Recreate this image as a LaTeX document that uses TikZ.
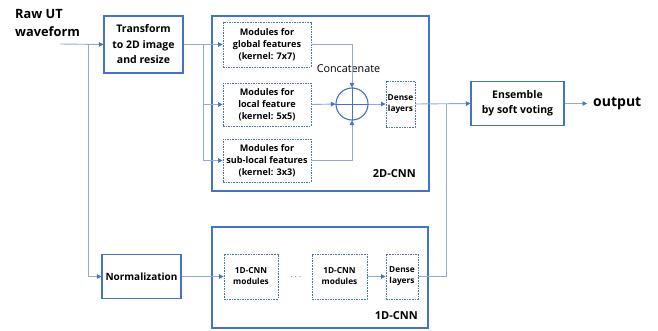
\documentclass[tikz,border=0pt]{standalone}
\usepackage{fontspec}
\setmainfont{Open Sans}
\usetikzlibrary{arrows.meta,calc}
\definecolor{boxblue}{HTML}{4472C4}
\definecolor{lineblue}{HTML}{8FAADC}
\begin{document}
\begin{tikzpicture}[x=1pt,y=-1pt,
  solidbox/.style={draw=boxblue, line width=1.1pt, align=center, inner sep=0pt, font=\fontsize{10.5}{15.5}\selectfont\bfseries},
  outerbox/.style={draw=boxblue, line width=1.6pt, inner sep=0pt},
  dashbox/.style={draw=boxblue, line width=0.9pt, dash pattern=on 1.6pt off 1pt, align=center, inner sep=0pt, font=\fontsize{9.1}{12}\selectfont\bfseries},
  smallbox/.style={dashbox, font=\fontsize{8.3}{11}\selectfont\bfseries},
  conn/.style={draw=lineblue, line width=0.9pt},
  arr/.style={conn, -{Triangle[length=4.5pt,width=4.5pt,color=boxblue]}},
  lbl/.style={inner sep=0pt, font=\fontsize{11}{12}\selectfont\bfseries}
]
\useasboundingbox (0,0) rectangle (658,330);
% outer CNN boxes
\node[outerbox, minimum width=217pt, minimum height=175pt] (cnn2) at (320.5,103.5) {};
\node[outerbox, minimum width=216pt, minimum height=101pt] (cnn1) at (320,277.5) {};
\node[lbl, anchor=east] (cnn2lbl) at (416,174) {2D-CNN};
\node[lbl, anchor=east] (cnn1lbl) at (418,316) {1D-CNN};
% input
\node[inner sep=0pt, anchor=west, align=left, font=\fontsize{12.8}{18}\selectfont\bfseries] (raw) at (15,23) {Raw UT\\waveform};
\coordinate (in) at (60,44);
\node[solidbox, minimum width=79pt, minimum height=57pt] (tr) at (143.5,44.5) {Transform\\to 2D image\\and resize};
\node[solidbox, font=\fontsize{10}{12}\selectfont\bfseries, minimum width=79pt, minimum height=44pt] (norm) at (141.5,276.5) {Normalization};
% 2D modules
\node[dashbox, minimum width=88pt, minimum height=45pt] (glob) at (267,44.5) {Modules for\\global features\\(kernel: 7x7)};
\node[dashbox, minimum width=88pt, minimum height=43pt] (loc) at (267,104.5) {Modules for\\local feature\\(kernel: 5x5)};
\node[dashbox, minimum width=88pt, minimum height=43pt] (sub) at (267,160.5) {Modules for\\sub-local features\\(kernel: 3x3)};
\node[circle, draw=boxblue, line width=1.1pt, minimum size=32pt, inner sep=0pt] (cat) at (352,104) {};
\draw[boxblue, line width=0.9pt] (cat.north) -- (cat.south) (cat.west) -- (cat.east);
\node[inner sep=0pt, font=\fontsize{10.8}{12}\selectfont] (catlbl) at (348.5,69) {Concatenate};
\node[smallbox, minimum width=29pt, minimum height=46pt] (d2) at (400.5,104) {Dense\\layers};
% 1D modules
\node[smallbox, minimum width=54pt, minimum height=45pt] (m1) at (251,276.5) {1D-CNN\\modules};
\node[inner sep=0pt, font=\fontsize{9}{11}\selectfont\bfseries] (dots) at (296,277) {$\cdots$};
\node[smallbox, minimum width=55pt, minimum height=45pt] (m2) at (339.5,276.5) {1D-CNN\\modules};
\node[smallbox, minimum width=32pt, minimum height=45pt] (d1) at (402,276.5) {Dense\\layers};
% ensemble & output
\node[solidbox, minimum width=93pt, minimum height=44pt] (ens) at (517.5,103.5) {Ensemble\\by soft voting};
\node[inner sep=0pt, anchor=west, font=\fontsize{14}{15}\selectfont\bfseries] (out) at (593,103.5) {output};
% connectors
\coordinate (split0) at (88,44);
\draw[arr] (in) -- (tr.west);
\draw[arr] (split0) |- (norm.west);
\coordinate (split) at ($(tr.east)+(20,0)$);
\draw[arr] (tr.east) -- (glob.west);
\draw[arr] (split) |- (loc.west);
\draw[arr] (split) |- (sub.west);
\draw[arr] (glob.east) -| (cat.north);
\draw[arr] (sub.east) -| (cat.south);
\draw[arr] (loc.east) -- (cat.west);
\draw[arr] (cat.east) -- (d2.west);
\draw[arr] (d2.east) -- (ens.west);
\coordinate (join) at (446,104);
\draw[conn] (d1.east) -| (join);
\draw[arr] (ens.east) -- ($(out.west)+(-6,0)$);
\draw[arr] (norm.east) -- (m1.west);
\draw[arr] (m2.east) -- (d1.west);
\end{tikzpicture}
\end{document}
